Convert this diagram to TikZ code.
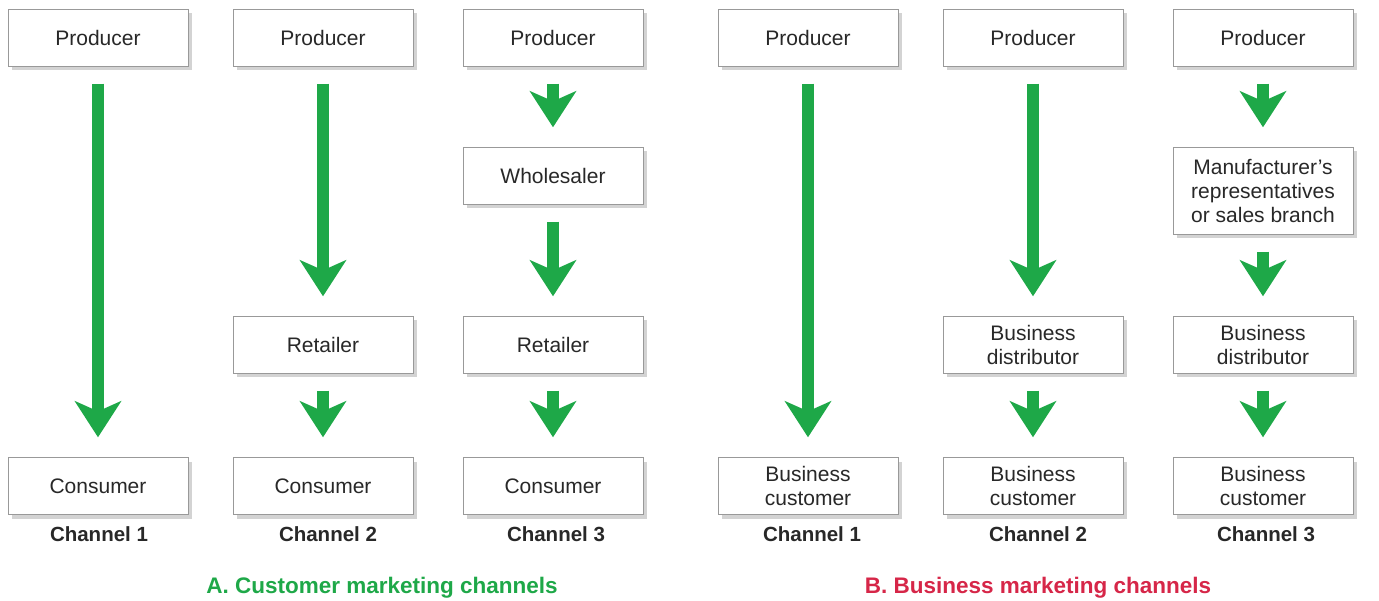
\documentclass[tikz,border=0pt]{standalone}
\usepackage{fontspec}
\setmainfont{Liberation Sans}
\usetikzlibrary{arrows.meta,shadows}
\definecolor{agreen}{RGB}{30,168,72}
\definecolor{bred}{RGB}{214,38,72}
\definecolor{tgray}{RGB}{40,40,40}
\begin{document}
\begin{tikzpicture}[x=1pt,y=-1pt,
  box/.style={draw=gray!80,fill=white,minimum width=180pt,minimum height=57pt,inner sep=0pt,align=center,font=\fontsize{21}{24}\selectfont,text=tgray,
    drop shadow={opacity=0.35,shadow xshift=4pt,shadow yshift=-4pt}},
  flow/.style={draw=agreen,line width=12pt,-{Stealth[length=36pt 0,width=46pt 0,inset=10pt 0]},shorten <=17pt,shorten >=20pt},
  chan/.style={font=\bfseries\fontsize{20.5}{24}\selectfont,text=tgray},
  title/.style={font=\bfseries\fontsize{22.5}{26}\selectfont}]
\useasboundingbox (0,0) rectangle (1379,601);
% column 1
\node[box] (p1) at (98,38) {Producer};
\node[box] (c1) at (98,486) {Consumer};
% column 2
\node[box] (p2) at (323,38) {Producer};
\node[box] (r2) at (323,345) {Retailer};
\node[box] (c2) at (323,486) {Consumer};
% column 3
\node[box] (p3) at (553,38) {Producer};
\node[box] (w3) at (553,176) {Wholesaler};
\node[box] (r3) at (553,345) {Retailer};
\node[box] (c3) at (553,486) {Consumer};
% column 4
\node[box] (p4) at (808,38) {Producer};
\node[box] (b4) at (808,486) {Business\\customer};
% column 5
\node[box] (p5) at (1033,38) {Producer};
\node[box] (d5) at (1033,345) {Business\\distributor};
\node[box] (b5) at (1033,486) {Business\\customer};
% column 6
\node[box] (p6) at (1263,38) {Producer};
\node[box,minimum height=87pt] (m6) at (1263,191) {Manufacturer’s\\representatives\\or sales branch};
\node[box] (d6) at (1263,345) {Business\\distributor};
\node[box] (b6) at (1263,486) {Business\\customer};
% arrows
\draw[flow] (p1) -- (c1);
\draw[flow] (p2) -- (r2);
\draw[flow] (r2) -- (c2);
\draw[flow] (p3) -- (w3);
\draw[flow] (w3) -- (r3);
\draw[flow] (r3) -- (c3);
\draw[flow] (p4) -- (b4);
\draw[flow] (p5) -- (d5);
\draw[flow] (d5) -- (b5);
\draw[flow] (p6) -- (m6);
\draw[flow] (m6) -- (d6);
\draw[flow] (d6) -- (b6);
% channel labels
\node[chan] (l1) at (99,534) {Channel 1};
\node[chan] (l2) at (328,534) {Channel 2};
\node[chan] (l3) at (556,534) {Channel 3};
\node[chan] (l4) at (812,534) {Channel 1};
\node[chan] (l5) at (1038,534) {Channel 2};
\node[chan] (l6) at (1266,534) {Channel 3};
\node[title,text=agreen] (ta) at (382,588) {A. Customer marketing channels};
\node[title,text=bred] (tb) at (1038,588) {B. Business marketing channels};
\end{tikzpicture}
\end{document}
